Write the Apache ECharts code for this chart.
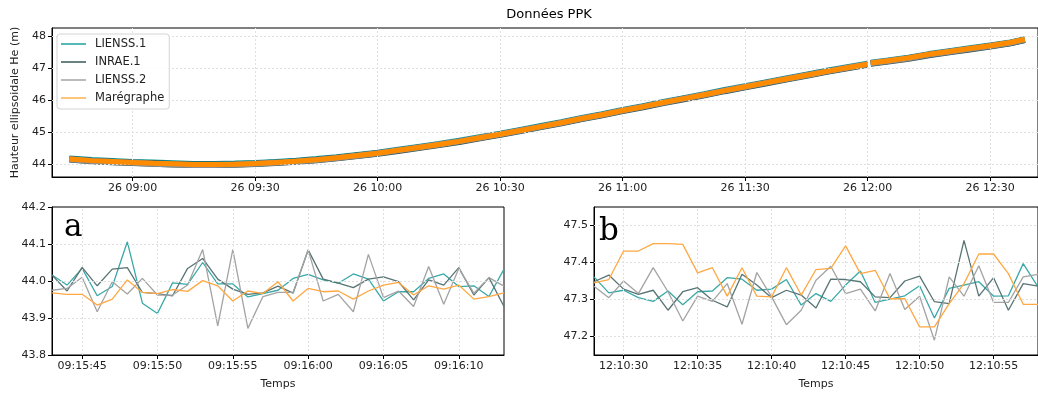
<!DOCTYPE html>
<html><head><meta charset="utf-8">
<script src="https://cdn.jsdelivr.net/npm/echarts@6/dist/echarts.min.js"></script>
<style>html,body{margin:0;padding:0;background:#fff}#c{width:1038px;height:394px}</style>
</head><body><div id="c"></div>
<script>
// ---------- DATA ----------
const seriesNames = ['LIENSS.1', 'INRAE.1', 'LIENSS.2', 'Marégraphe'];

// Overview (whole session), read every ~5 min from the picture
const overviewTimes = ['08:44:30','08:50','08:55','09:00','09:05','09:10','09:15','09:20','09:25','09:30',
  '09:35','09:40','09:45','09:50','09:55','10:00','10:05','10:10','10:15','10:20',
  '10:25','10:30','10:35','10:40','10:45','10:50','10:55','11:00','11:05','11:10',
  '11:15','11:20','11:25','11:30','11:35','11:40','11:45','11:50','11:55','12:00',
  '12:00:20','12:00:45','12:05','12:10','12:15','12:20','12:25','12:30','12:35','12:38:30'];
const overviewLienss1 = [44.18,44.13,44.10,44.07,44.05,44.03,44.01,44.01,44.02,44.04,
  44.07,44.11,44.16,44.22,44.29,44.36,44.45,44.54,44.63,44.73,
  44.84,44.95,45.07,45.19,45.31,45.44,45.56,45.69,45.81,45.94,
  46.06,46.18,46.31,46.43,46.55,46.67,46.79,46.91,47.02,47.13,
  null,47.16,47.23,47.32,47.43,47.52,47.61,47.70,47.79,47.89];
const overviewInrae1 = [44.16,44.11,44.08,44.05,44.03,44.01,43.99,43.99,44.00,44.02,
  44.05,44.09,44.14,44.20,44.27,44.34,44.43,44.52,44.61,44.71,
  44.82,44.93,45.05,45.17,45.29,45.42,45.54,45.67,45.79,45.92,
  46.04,46.16,46.29,46.41,46.53,46.65,46.77,46.89,47.00,47.11,
  null,47.14,47.21,47.30,47.41,47.50,47.59,47.68,47.78,47.88];
const overviewLienss2 = [44.16,44.11,44.08,44.05,44.02,44.00,43.98,43.98,44.00,44.02,
  44.05,44.09,44.14,44.20,44.27,44.35,44.44,44.53,44.62,44.72,
  44.83,44.94,45.06,45.18,45.30,45.43,45.55,45.68,45.80,45.93,
  46.05,46.17,46.30,46.42,46.54,46.66,46.78,46.90,47.01,47.12,
  null,47.15,47.22,47.31,47.42,47.51,47.60,47.69,47.79,47.89];
const overviewMaregraphe = [44.17,44.12,44.09,44.06,44.04,44.02,44.00,44.00,44.01,44.03,
  44.06,44.10,44.15,44.21,44.28,44.35,44.44,44.53,44.62,44.72,
  44.83,44.94,45.06,45.18,45.30,45.43,45.55,45.68,45.80,45.93,
  46.05,46.17,46.30,46.42,46.54,46.66,46.78,46.90,47.01,47.12,
  null,47.16,47.23,47.32,47.43,47.52,47.61,47.70,47.80,47.90];
const overviewTicks = ['09:00','09:30','10:00','10:30','11:00','11:30','12:00','12:30'];
const overviewYTicks = [44, 45, 46, 47, 48];

// Detail a
const aTimes = ['09:15:43','09:15:44','09:15:45','09:15:46','09:15:47','09:15:48','09:15:49','09:15:50',
  '09:15:51','09:15:52','09:15:53','09:15:54','09:15:55','09:15:56','09:15:57','09:15:58','09:15:59',
  '09:16:00','09:16:01','09:16:02','09:16:03','09:16:04','09:16:05','09:16:06','09:16:07','09:16:08',
  '09:16:09','09:16:10','09:16:11','09:16:12','09:16:13'];
const aLienss1 = [44.016,43.989,44.034,43.960,43.985,44.106,43.940,43.912,43.995,43.991,44.050,43.992,43.992,43.957,43.966,43.975,44.007,44.018,44.003,43.994,44.019,44.005,43.946,43.971,43.971,44.007,44.019,43.985,43.987,43.958,44.032];
const aInrae1 = [44.016,43.973,44.037,43.987,44.032,44.036,43.969,43.966,43.960,44.034,44.061,44.005,43.978,43.964,43.968,43.986,43.967,44.084,44.005,43.994,43.982,44.005,44.011,43.998,43.949,44.003,43.989,44.036,43.962,44.009,43.931];
const aLienss2 = [43.975,43.980,44.010,43.917,43.998,43.965,44.007,43.962,43.962,43.989,44.085,43.879,44.085,43.872,43.958,43.969,43.969,44.084,43.946,43.964,43.917,44.072,43.955,43.973,43.931,44.039,43.937,44.034,43.967,44.009,43.986];
const aMaregraphe = [43.968,43.964,43.964,43.935,43.951,44.003,43.969,43.966,43.977,43.972,44.001,43.987,43.946,43.973,43.966,43.998,43.946,43.980,43.971,43.973,43.951,43.973,43.989,43.996,43.962,43.987,43.978,43.989,43.951,43.958,43.968];
const aTicks = ['09:15:45','09:15:50','09:15:55','09:16:00','09:16:05','09:16:10'];
const aYTicks = [43.8, 43.9, 44.0, 44.1, 44.2];

// Detail b
const bTimes = ['12:10:28','12:10:29','12:10:30','12:10:31','12:10:32','12:10:33','12:10:34','12:10:35',
  '12:10:36','12:10:37','12:10:38','12:10:39','12:10:40','12:10:41','12:10:42','12:10:43','12:10:44',
  '12:10:45','12:10:46','12:10:47','12:10:48','12:10:49','12:10:50','12:10:51','12:10:52','12:10:53',
  '12:10:54','12:10:55','12:10:56','12:10:57','12:10:58'];
const bLienss1 = [47.361,47.318,47.325,47.305,47.295,47.323,47.286,47.321,47.323,47.359,47.355,47.325,47.328,47.354,47.285,47.316,47.295,47.339,47.377,47.292,47.301,47.310,47.337,47.250,47.330,47.339,47.348,47.309,47.310,47.397,47.334];
const bInrae1 = [47.348,47.366,47.328,47.314,47.325,47.271,47.321,47.332,47.298,47.280,47.368,47.339,47.305,47.325,47.312,47.277,47.355,47.354,47.348,47.307,47.305,47.350,47.363,47.294,47.289,47.460,47.309,47.359,47.271,47.343,47.336];
const bLienss2 = [47.336,47.305,47.350,47.316,47.386,47.321,47.242,47.309,47.295,47.343,47.233,47.373,47.307,47.232,47.271,47.352,47.390,47.316,47.328,47.269,47.370,47.273,47.309,47.190,47.361,47.309,47.391,47.292,47.292,47.361,47.368];
const bMaregraphe = [47.345,47.354,47.431,47.431,47.451,47.451,47.449,47.372,47.386,47.309,47.386,47.309,47.307,47.386,47.312,47.381,47.384,47.445,47.370,47.379,47.302,47.302,47.226,47.226,47.289,47.343,47.423,47.423,47.370,47.287,47.287];
const bTicks = ['12:10:30','12:10:35','12:10:40','12:10:45','12:10:50','12:10:55'];
const bYTicks = [47.2, 47.3, 47.4, 47.5];

// ---------- HELPERS ----------
const FF = 'DejaVu Sans';
function secs(s){const p=s.split(':').map(Number);return p[0]*3600+p[1]*60+(p[2]||0);}
function pad(n){return String(n).padStart(2,'0');}
function fmtHMS(v){v=Math.round(v);return pad(Math.floor(v/3600))+':'+pad(Math.floor(v%3600/60))+':'+pad(v%60);}
function fmtDayHM(v){v=Math.round(v);return '26 '+pad(Math.floor(v/3600))+':'+pad(Math.floor(v%3600/60));}
function pairs(times, vals){return times.map((t,i)=>[secs(t), vals[i]]);}

const overviewColors = ['#149b9b', '#2f4f4f', '#8e8e8e', '#ff8c00'];
const overviewWidths = [6.5, 6.5, 6, 5];
const detailColors = ['#38a9a7', '#587474', '#a3a3a3', '#ffa843'];
const legendColors = ['#1aa0a0', '#3a5858', '#a5a5a5', '#ffb04a'];

function xAxisCfg(gi, min, max, ticks, fmt, name){
  return {
    type:'value', gridIndex:gi, min:min, max:max,
    name:name||'', nameLocation:'middle', nameGap:24,
    nameTextStyle:{fontFamily:FF, fontSize:11, color:'#222'},
    axisLine:{show:true, onZero:false, lineStyle:{color:'#000', width:1}},
    axisTick:{show:true, inside:false, length:4, customValues:ticks, lineStyle:{color:'#000'}},
    axisLabel:{customValues:ticks, formatter:fmt, margin:6, fontFamily:FF, fontSize:11, color:'#222'},
    splitLine:{show:false}
  };
}
function yAxisCfg(gi, min, max, ticks, dec, name){
  return {
    type:'value', gridIndex:gi, min:min, max:max,
    name:name||'', nameLocation:'middle', nameGap:31,
    nameTextStyle:{fontFamily:FF, fontSize:11, color:'#222'},
    axisLine:{show:true, onZero:false, lineStyle:{color:'#000', width:1}},
    axisTick:{show:true, inside:false, length:4, customValues:ticks, lineStyle:{color:'#000'}},
    axisLabel:{customValues:ticks, formatter:v=>v.toFixed(dec), margin:6, fontFamily:FF, fontSize:11, color:'#222'},
    splitLine:{show:false}
  };
}
// grid lines drawn at the tick values (inside the plot only)
function gridLines(gi, xt, yt, xr, yr){
  const d = [];
  xt.forEach(v=>{ if (v>xr[0] && v<xr[1]) d.push({xAxis:v}); });
  yt.forEach(v=>{ if (v>yr[0]+1e-9 && v<yr[1]-1e-9) d.push({yAxis:v}); });
  return {type:'line', xAxisIndex:gi, yAxisIndex:gi, data:[], silent:true, z:1, animation:false,
    markLine:{silent:true, symbol:['none','none'], label:{show:false}, animation:false,
      lineStyle:{color:'#e0e0e0', type:[2,2], width:1}, emphasis:{disabled:true}, data:d}};
}

const overviewVals = [overviewLienss1, overviewInrae1, overviewLienss2, overviewMaregraphe];
const aVals = [aLienss1, aInrae1, aLienss2, aMaregraphe];
const bVals = [bLienss1, bInrae1, bLienss2, bMaregraphe];

const xr0 = [secs('08:40:15'), secs('12:41:44')], yr0 = [43.61, 48.25];
const xr1 = [secs('09:15:43'), secs('09:16:13')], yr1 = [43.8, 44.2];
const xr2 = [secs('12:10:28'), secs('12:10:58')], yr2 = [47.15, 47.55];

const series = [
  gridLines(0, overviewTicks.map(secs), overviewYTicks, xr0, yr0),
  gridLines(1, aTicks.map(secs), aYTicks, xr1, yr1),
  gridLines(2, bTicks.map(secs), bYTicks, xr2, yr2)
];
seriesNames.forEach((n,i)=>{
  series.push({type:'line', name:n, xAxisIndex:0, yAxisIndex:0, data:pairs(overviewTimes, overviewVals[i]),
    symbol:'none', connectNulls:false, silent:true, color:overviewColors[i],
    lineStyle:{color:overviewColors[i], width:overviewWidths[i], cap:'butt'}, z:2+i, animation:false});
});
seriesNames.forEach((n,i)=>{
  series.push({type:'line', name:n, xAxisIndex:1, yAxisIndex:1, data:pairs(aTimes, aVals[i]),
    symbol:'none', silent:true, color:detailColors[i],
    lineStyle:{color:detailColors[i], width:1.3}, z:2+i, animation:false});
  series.push({type:'line', name:n, xAxisIndex:2, yAxisIndex:2, data:pairs(bTimes, bVals[i]),
    symbol:'none', silent:true, color:detailColors[i],
    lineStyle:{color:detailColors[i], width:1.3}, z:2+i, animation:false});
});

const gridBox = {show:true, borderColor:'#000', borderWidth:1, backgroundColor:'#fff', containLabel:false};
const option = {
  animation:false,
  backgroundColor:'#fff',
  grid:[
    Object.assign({left:52, right:-8, top:28, height:149}, gridBox),
    Object.assign({left:52, width:452, top:207, height:148}, gridBox),
    Object.assign({left:594, right:-8, top:207, height:148}, gridBox)
  ],
  xAxis:[
    xAxisCfg(0, xr0[0], xr0[1], overviewTicks.map(secs), fmtDayHM),
    xAxisCfg(1, xr1[0], xr1[1], aTicks.map(secs), fmtHMS, 'Temps'),
    xAxisCfg(2, xr2[0], xr2[1], bTicks.map(secs), fmtHMS, 'Temps')
  ],
  yAxis:[
    yAxisCfg(0, yr0[0], yr0[1], overviewYTicks, 0, 'Hauteur ellipsoidale He (m)'),
    yAxisCfg(1, yr1[0], yr1[1], aYTicks, 1),
    yAxisCfg(2, yr2[0], yr2[1], bYTicks, 1)
  ],
  legend:{
    orient:'vertical', left:57, top:34, padding:[4,5,5,4],
    itemWidth:25, itemHeight:12, itemGap:6, z:20,
    backgroundColor:'rgba(255,255,255,0.85)', borderColor:'#d4d4d4', borderWidth:1, borderRadius:3,
    textStyle:{fontFamily:FF, fontSize:11.5, color:'#222', padding:[0,0,0,4], lineHeight:12},
    icon:'path://M0,0L25,0L25,1.5L0,1.5Z',
    data:seriesNames.map((n,i)=>({name:n, itemStyle:{color:legendColors[i]}})),
    selectedMode:false
  },
  graphic:[
    {type:'text', x:549, y:15, style:{text:'Données PPK', fontFamily:FF, fontSize:13, fill:'#000', align:'center', verticalAlign:'middle'}},
    {type:'text', x:64, y:228, z:100, style:{text:'a', fontFamily:'DejaVu Serif', fontSize:31, fill:'#000', align:'left', verticalAlign:'middle'}},
    {type:'text', x:599, y:232, z:100, style:{text:'b', fontFamily:'DejaVu Serif', fontSize:31, fill:'#000', align:'left', verticalAlign:'middle'}}
  ],
  series:series
};
const chart = echarts.init(document.getElementById('c'), null, {renderer:'canvas'});
chart.setOption(option);
</script>
</body></html>
